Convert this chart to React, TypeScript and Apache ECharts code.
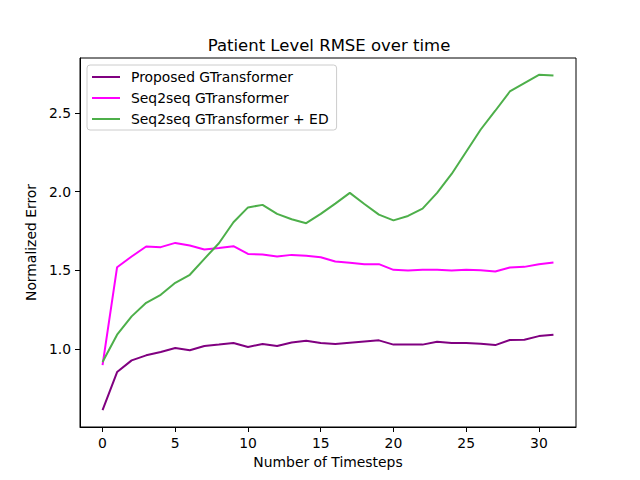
import React, { useEffect, useRef } from "react";
import * as echarts from "echarts";

const steps: number[] = Array.from({ length: 32 }, (_, i) => i);
const proposed: number[] = [
  0.614, 0.856, 0.93, 0.962, 0.983, 1.008, 0.994, 1.021, 1.03, 1.04, 1.015, 1.034, 1.021, 1.044, 1.055, 1.04,
  1.034, 1.042, 1.05, 1.057, 1.03, 1.03, 1.03, 1.048, 1.04, 1.04, 1.036, 1.027, 1.059, 1.061, 1.084, 1.093,
];
const seq2seq: number[] = [
  0.9, 1.521, 1.589, 1.652, 1.648, 1.675, 1.658, 1.633, 1.643, 1.654, 1.605, 1.601, 1.589, 1.599, 1.593, 1.584,
  1.557, 1.549, 1.54, 1.54, 1.504, 1.5, 1.504, 1.504, 1.5, 1.504, 1.502, 1.494, 1.519, 1.523, 1.54, 1.551,
];
const seq2seqED: number[] = [
  0.92, 1.093, 1.209, 1.295, 1.346, 1.422, 1.473, 1.574, 1.673, 1.806, 1.9, 1.916, 1.859, 1.825, 1.8, 1.859,
  1.924, 1.992, 1.922, 1.854, 1.818, 1.846, 1.892, 1.992, 2.112, 2.253, 2.394, 2.513, 2.635, 2.688, 2.741, 2.736,
];
const seriesNames = ["Proposed GTransformer", "Seq2seq GTransformer", "Seq2seq GTransformer + ED"];
const seriesColors = ["#800080", "#ff00ff", "#4daf4a"];
const xTicks = [0, 5, 10, 15, 20, 25, 30];
const yTicks = [1.0, 1.5, 2.0, 2.5];

const FONT = "DejaVu Sans";

export default function App() {
  const ref = useRef<HTMLDivElement>(null);
  useEffect(() => {
    if (!ref.current) return;
    const chart = echarts.init(ref.current, undefined, { renderer: "svg" });
    const all = [proposed, seq2seq, seq2seqED];
    const allVals = all.flat();
    const yMinD = Math.min(...allVals);
    const yMaxD = Math.max(...allVals);
    const yPad = (yMaxD - yMinD) * 0.05;
    const xPad = (steps[steps.length - 1] - steps[0]) * 0.05;
    chart.setOption({
      animation: false,
      backgroundColor: "#ffffff",
      textStyle: { fontFamily: FONT },
      title: {
        text: "Patient Level RMSE over time",
        left: 324,
        top: 32,
        textAlign: "center",
        textStyle: { fontFamily: FONT, fontSize: 16.5, fontWeight: "normal", color: "#000" },
      },
      legend: {
        orient: "vertical",
        left: 87,
        top: 65,
        padding: [5, 8, 4, 5],
        itemGap: 7,
        itemWidth: 28,
        itemHeight: 2,
        icon: "rect",
        backgroundColor: "#ffffff",
        borderColor: "#cccccc",
        borderWidth: 1,
        borderRadius: 3,
        data: seriesNames,
        textStyle: { fontFamily: FONT, fontSize: 13.9, color: "#000", padding: [0, 0, 0, 6] },
      },
      grid: {
        left: 80,
        right: 64,
        top: 58,
        bottom: 53,
        show: true,
        borderColor: "#000",
        borderWidth: 1,
        backgroundColor: "transparent",
      },
      xAxis: {
        type: "value",
        min: steps[0] - xPad,
        max: steps[steps.length - 1] + xPad,
        name: "Number of Timesteps",
        nameLocation: "middle",
        nameGap: 28,
        nameTextStyle: { fontFamily: FONT, fontSize: 13.9, color: "#000" },
        axisLine: { show: true, onZero: false, lineStyle: { color: "#000", width: 1 } },
        axisTick: { show: true, length: 5, lineStyle: { color: "#000" }, customValues: xTicks },
        axisLabel: {
          show: true,
          margin: 9,
          fontFamily: FONT,
          fontSize: 13.9,
          color: "#000",
          customValues: xTicks,
          formatter: (v: number) => String(Math.round(v)),
        },
        splitLine: { show: false },
      },
      yAxis: {
        type: "value",
        min: yMinD - yPad,
        max: yMaxD + yPad,
        name: "Normalized Error",
        nameLocation: "middle",
        nameGap: 38,
        nameTextStyle: { fontFamily: FONT, fontSize: 13.9, color: "#000" },
        axisLine: { show: true, onZero: false, lineStyle: { color: "#000", width: 1 } },
        axisTick: { show: true, length: 5, lineStyle: { color: "#000" }, customValues: yTicks },
        axisLabel: {
          show: true,
          margin: 9,
          fontFamily: FONT,
          fontSize: 13.9,
          color: "#000",
          customValues: yTicks,
          formatter: (v: number) => v.toFixed(1),
        },
        splitLine: { show: false },
      },
      series: all.map((vals, k) => ({
        name: seriesNames[k],
        type: "line",
        data: steps.map((s, i) => [s, vals[i]]),
        symbol: "none",
        showSymbol: false,
        lineStyle: { color: seriesColors[k], width: 2 },
        itemStyle: { color: seriesColors[k] },
      })),
    });
    return () => chart.dispose();
  }, []);
  return <div ref={ref} style={{ width: 640, height: 480, position: "absolute", left: 0, top: 0 }} />;
}
